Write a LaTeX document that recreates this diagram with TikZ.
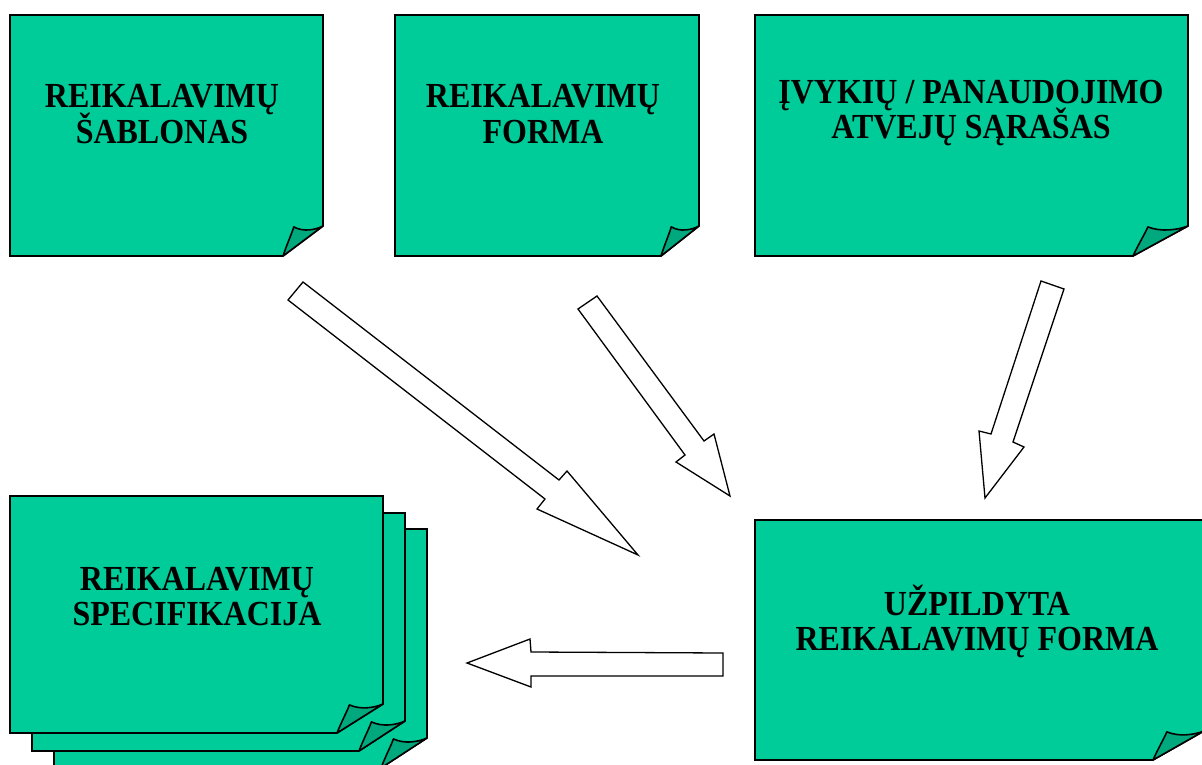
\documentclass[tikz,border=0pt]{standalone}
\usepackage{fontspec}
\usepackage{graphicx}
\setmainfont{Liberation Serif}
\definecolor{notegreen}{RGB}{0,204,153}
\definecolor{flapgreen}{RGB}{0,168,126}
\tikzset{
 notebody/.style={fill=notegreen, draw=black, line width=1.6pt, line join=miter},
 noteflap/.style={fill=flapgreen, draw=black, line width=1.6pt, line join=round},
 blockarrow/.style={fill=white, draw=black, line width=1.3pt, line join=miter},
 lbl/.style={anchor=base, inner sep=0pt, font=\fontsize{32}{35}\selectfont\bfseries},
}
\newcommand\tallword[1]{\scalebox{1}[1.1]{#1}}
\newcommand\notepage[6]{%
 \path[notebody] (#1,#2) -- (#3,#2) -- (#3,{#4-#6}) -- ({#3-#5},#4) -- (#1,#4) -- cycle;
 \path[noteflap] ({#3-#5},#4) .. controls ({#3-0.9*#5},{#4-0.4*#6}) and ({#3-0.78*#5},{#4-0.75*#6}) .. ({#3-0.73*#5},{#4-0.97*#6}) .. controls ({#3-0.5*#5},{#4-0.8*#6}) and ({#3-0.2*#5},{#4-0.86*#6}) .. (#3,{#4-#6}) -- cycle;
}
\begin{document}
\begin{tikzpicture}[x=1pt,y=-1pt]
\useasboundingbox (0,0) rectangle (1202,765);
% top notes
\notepage{10}{15}{323}{256}{40}{30}
\notepage{395}{15}{699}{256}{38}{30}
\notepage{755}{15}{1188}{256}{55}{30}
% stacked note (back to front)
\notepage{54}{529}{427}{768}{46}{30}
\notepage{32}{513}{405}{751}{46}{30}
\notepage{10}{496}{383}{733}{46}{29}
% filled form
\notepage{755}{520}{1204}{760}{51}{29}
% labels
\node[lbl] (n1a) at (162,108) {\tallword{REIKALAVIMŲ}};
\node[lbl] (n1b) at (162,143) {\tallword{ŠABLONAS}};
\node[lbl] (n2a) at (543,108) {\tallword{REIKALAVIMŲ}};
\node[lbl] (n2b) at (543,143) {\tallword{FORMA}};
\node[lbl] (n3a) at (971,104) {\tallword{ĮVYKIŲ / PANAUDOJIMO}};
\node[lbl] (n3b) at (971,139) {\tallword{ATVEJŲ SĄRAŠAS}};
\node[lbl] (n4a) at (197,590) {\tallword{REIKALAVIMŲ}};
\node[lbl] (n4b) at (197,625) {\tallword{SPECIFIKACIJA}};
\node[lbl] (n5a) at (977,615) {\tallword{UŽPILDYTA}};
\node[lbl] (n5b) at (977,650) {\tallword{REIKALAVIMŲ FORMA}};
% block arrows
\path[blockarrow] (303,282) -- (559,480) -- (567,471) -- (638,555) -- (537,509) -- (545,499) -- (288,300) -- cycle;
\path[blockarrow] (597,296) -- (704,441) -- (714,434) -- (730,496) -- (676,462) -- (685,455) -- (578,309) -- cycle;
\path[blockarrow] (1041,281) -- (1064,289) -- (1013,442) -- (1024,447) -- (985,498) -- (979,431) -- (991,434) -- cycle;
\path[blockarrow] (723,653) -- (531,652) -- (530,639) -- (467,663) -- (531,687) -- (531,676) -- (723,676) -- cycle;
\end{tikzpicture}
\end{document}
